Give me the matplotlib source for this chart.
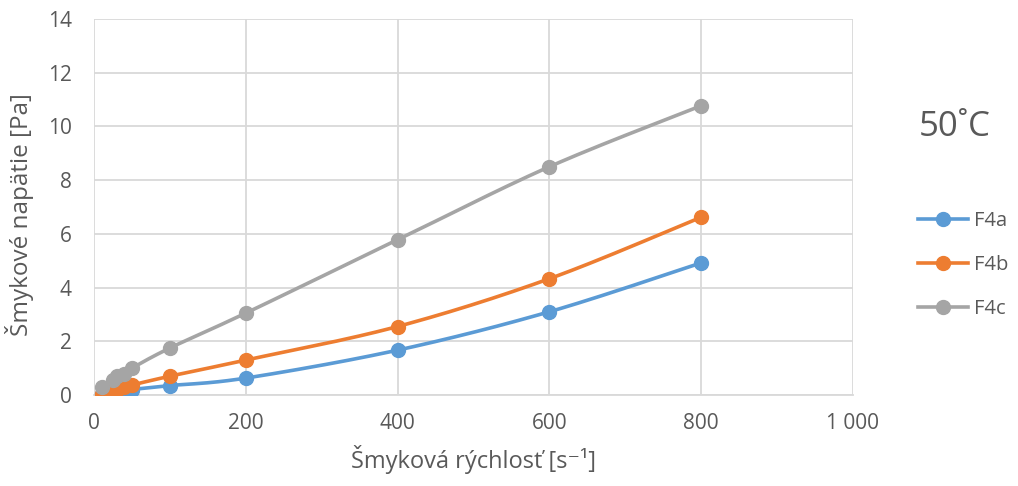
import numpy as np
import matplotlib
matplotlib.use("Agg")
import matplotlib.pyplot as plt
from matplotlib.ticker import FuncFormatter

shear_rate = [10, 25, 30, 40, 50, 100, 200, 400, 600, 800]
f4a = [0.02, 0.05, 0.08, 0.12, 0.20, 0.35, 0.63, 1.67, 3.10, 4.92]
f4b = [0.05, 0.15, 0.20, 0.28, 0.37, 0.70, 1.30, 2.55, 4.33, 6.62]
f4c = [0.28, 0.55, 0.70, 0.80, 1.00, 1.75, 3.05, 5.78, 8.50, 10.77]
series_names = ["F4a", "F4b", "F4c"]
colors = ["#5B9BD5", "#ED7D31", "#A5A5A5"]
temperature = "50˚C"

plt.rcParams["font.family"] = ["Open Sans", "DejaVu Sans"]
text_color = "#595959"


def smooth(x, y, n=30, tension=1 / 6):
    """Cardinal-Bezier smoothing through all points."""
    x = np.asarray(x, float)
    y = np.asarray(y, float)
    xs, ys = [x[0]], [y[0]]
    for i in range(len(x) - 1):
        p0 = np.array([x[max(i - 1, 0)], y[max(i - 1, 0)]])
        p1 = np.array([x[i], y[i]])
        p2 = np.array([x[i + 1], y[i + 1]])
        p3 = np.array([x[min(i + 2, len(x) - 1)], y[min(i + 2, len(x) - 1)]])
        c1 = p1 + (p2 - p0) * tension
        c2 = p2 - (p3 - p1) * tension
        t = np.linspace(0, 1, n)[1:, None]
        pts = ((1 - t) ** 3) * p1 + 3 * ((1 - t) ** 2) * t * c1 + 3 * (1 - t) * t ** 2 * c2 + t ** 3 * p2
        xs.extend(pts[:, 0])
        ys.extend(pts[:, 1])
    return np.array(xs), np.array(ys)


fig = plt.figure(figsize=(10.18, 4.86), dpi=100)
ax = fig.add_axes([94 / 1018, 1 - 395 / 486, (853 - 94) / 1018, (395 - 19) / 486])

for name, vals, c in zip(series_names, [f4a, f4b, f4c], colors):
    sx, sy = smooth(shear_rate, vals)
    ax.plot(sx, sy, color=c, lw=2.6, solid_capstyle="round", zorder=3)
    ax.plot(shear_rate, vals, "o", color=c, ms=10, zorder=4)
    ax.plot([], [], "-o", color=c, lw=2.6, ms=10, label=name)

ax.set_xlim(0, 1000)
ax.set_ylim(0, 14)
ax.set_xticks(range(0, 1001, 200))
ax.set_yticks(range(0, 15, 2))
ax.xaxis.set_major_formatter(FuncFormatter(lambda v, p: f"{int(v):,}".replace(",", " ")))
ax.grid(True, color="#D9D9D9", lw=1.3)
ax.set_axisbelow(True)
for s in ["top", "right"]:
    ax.spines[s].set_visible(False)
ax.spines["left"].set_visible(False)
ax.spines["bottom"].set_color("#D9D9D9")
ax.spines["bottom"].set_linewidth(1.3)
ax.tick_params(length=0, labelsize=15, colors=text_color)
ax.tick_params(axis="y", pad=16)
ax.tick_params(axis="x", pad=13)

ax.set_xlabel("Šmyková rýchlosť [s⁻¹]", fontsize=17, color=text_color, labelpad=8)
ax.set_ylabel("Šmykové napätie [Pa]", fontsize=17.5, color=text_color)
ax.yaxis.set_label_coords(-60 / 759, 0.48)

fig.text(955 / 1018, 1 - 127 / 486, temperature, fontsize=25, color=text_color,
         ha="center", va="center")

leg = fig.legend(loc="center left", bbox_to_anchor=(918 / 1018, 1 - 265 / 486),
                 frameon=False, fontsize=14.5, labelspacing=1.2, handlelength=2.5,
                 handletextpad=0.3, borderpad=0, borderaxespad=0)
for t in leg.get_texts():
    t.set_color(text_color)

fig.savefig("out.png", dpi=100)
